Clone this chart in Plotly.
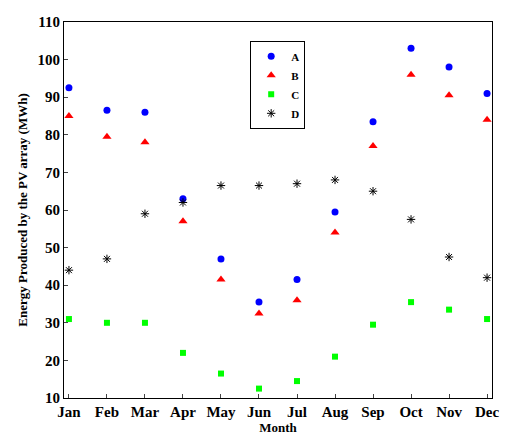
import plotly.graph_objects as go

months = ["Jan", "Feb", "Mar", "Apr", "May", "Jun", "Jul", "Aug", "Sep", "Oct", "Nov", "Dec"]
a_vals = [92.5, 86.5, 86, 63, 47, 35.5, 41.5, 59.5, 83.5, 103, 98, 91]
b_vals = [85, 79.5, 78, 57, 41.5, 32.5, 36, 54, 77, 96, 90.5, 84]
c_vals = [31, 30, 30, 22, 16.5, 12.5, 14.5, 21, 29.5, 35.5, 33.5, 31]
d_vals = [44, 47, 59, 62, 66.5, 66.5, 67, 68, 65, 57.5, 47.5, 42]

x = list(range(1, 13))
font = dict(family="Liberation Serif", size=14, color="black")

fig = go.Figure()
fig.add_trace(go.Scatter(x=x, y=a_vals, mode="markers", name="A",
                         marker=dict(symbol="circle", size=7, color="#0000ff")))
fig.add_trace(go.Scatter(x=x, y=b_vals, mode="markers", name="B",
                         marker=dict(symbol="triangle-up", size=8, color="#ff0000")))
fig.add_trace(go.Scatter(x=x, y=c_vals, mode="markers", name="C",
                         marker=dict(symbol="square", size=6, color="#00ff00")))
fig.add_trace(go.Scatter(x=x, y=d_vals, mode="markers", name="D",
                         marker=dict(symbol="asterisk-open", size=7, color="black",
                                     line=dict(width=1, color="black"))))

fig.update_xaxes(range=[0.87, 12.13], tickvals=x, ticktext=months,
                 ticks="inside", ticklen=4, showgrid=False, zeroline=False,
                 showline=True, linecolor="black", linewidth=1, mirror=True,
                 title=dict(text="<b>Month</b>", font=dict(family="Liberation Serif", size=13), standoff=0),
                 tickfont=dict(family="Liberation Serif", size=15, weight="bold"))
fig.update_yaxes(range=[10, 110], dtick=10, ticks="inside", ticklen=4,
                 showgrid=False, zeroline=False,
                 showline=True, linecolor="black", linewidth=1, mirror=True,
                 title=dict(text="<b>Energy Produced by the PV array (MWh)</b>",
                            font=dict(family="Liberation Serif", size=13), standoff=6),
                 tickfont=dict(family="Liberation Serif", size=15, weight="bold"))
fig.update_layout(width=523, height=436, plot_bgcolor="white", paper_bgcolor="white",
                  font=font, margin=dict(l=56, r=39, t=14, b=46, autoexpand=False),
                  legend=dict(x=0.435, y=0.95, xanchor="left", yanchor="top",
                              bordercolor="black", borderwidth=1, bgcolor="white",
                              font=dict(family="Liberation Serif", size=11, weight="bold"),
                              tracegroupgap=0, itemwidth=30))
fig.write_html("out.html")
